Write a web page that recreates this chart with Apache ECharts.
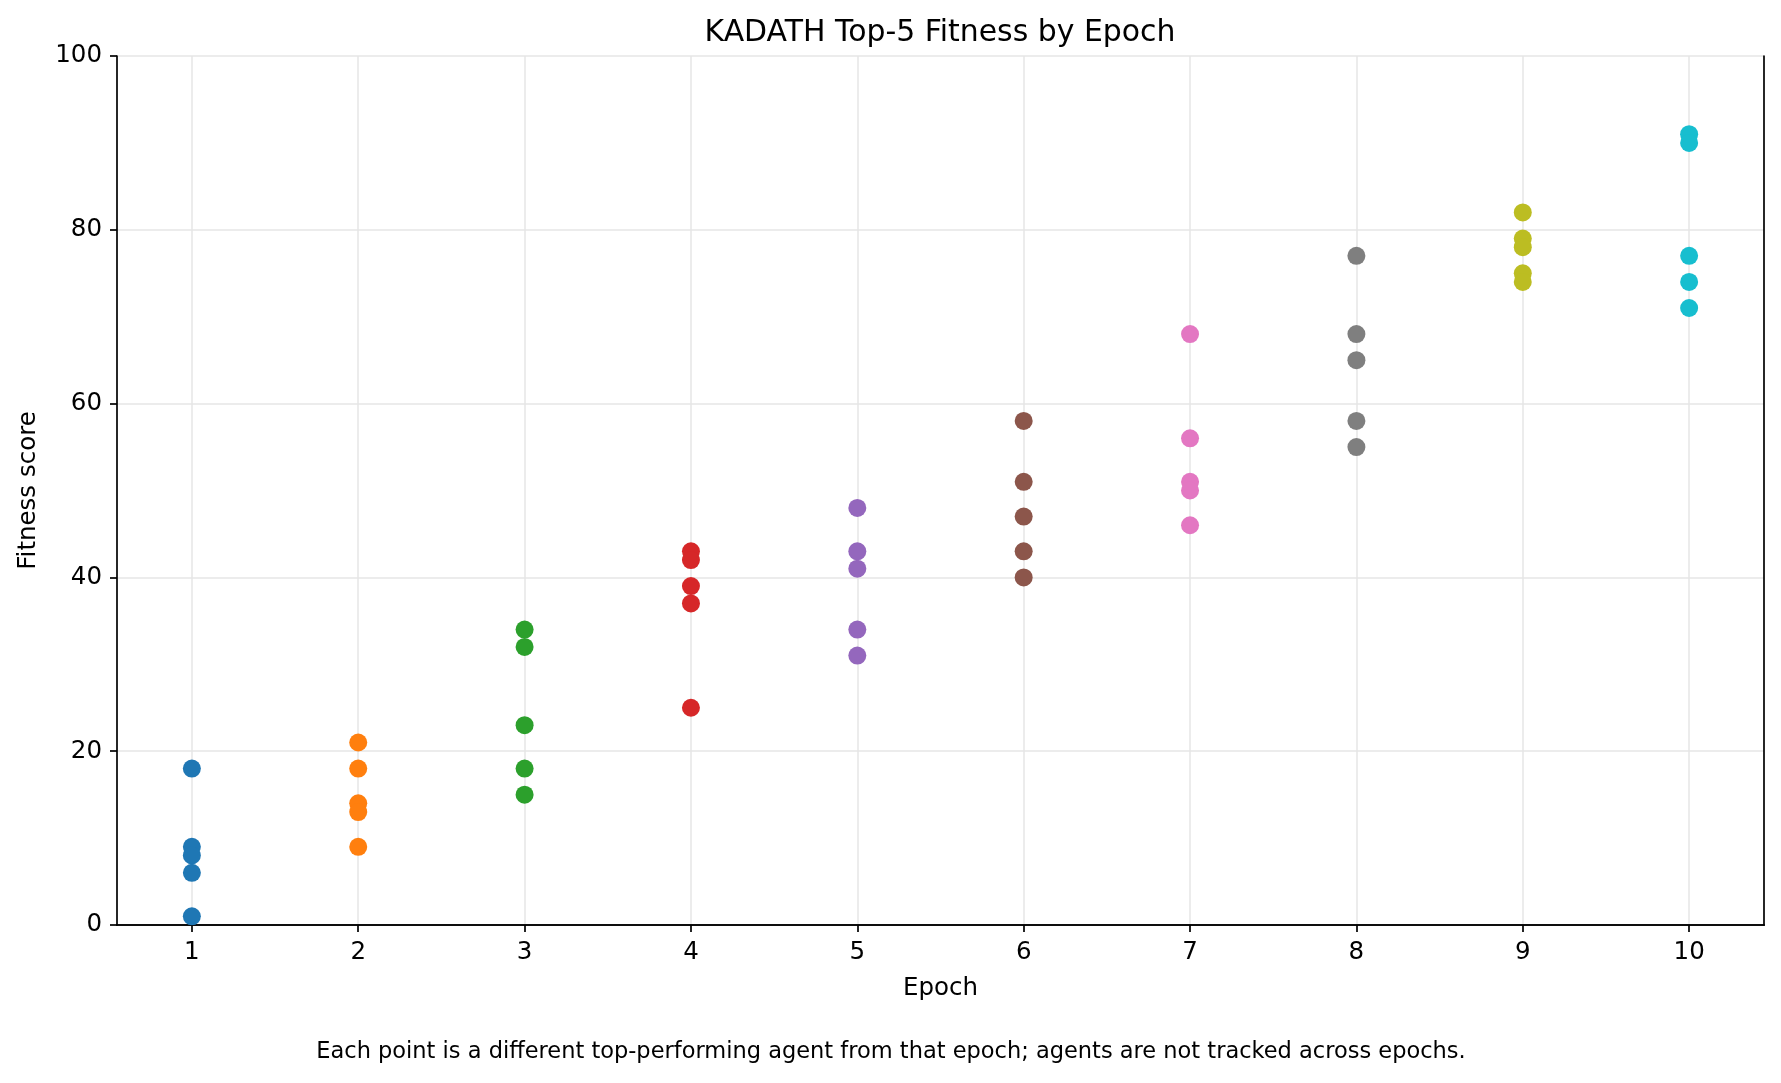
<!DOCTYPE html>
<html>
<head>
<meta charset="utf-8">
<title>KADATH Top-5 Fitness by Epoch</title>
<script src="https://cdn.jsdelivr.net/npm/echarts@6.0.0/dist/echarts.min.js"></script>
<style>
  html, body { margin: 0; padding: 0; background: #fff; }
  #chart { width: 1781px; height: 1083px; }
</style>
</head>
<body>
<div id="chart"></div>
<script>
// epochs on the x axis
var epochs = [1, 2, 3, 4, 5, 6, 7, 8, 9, 10];
// top-5 fitness scores per epoch
var epoch1 = [18, 9, 8, 6, 1];
var epoch2 = [21, 18, 14, 13, 9];
var epoch3 = [34, 32, 23, 18, 15];
var epoch4 = [43, 42, 39, 37, 25];
var epoch5 = [48, 43, 41, 34, 31];
var epoch6 = [58, 51, 47, 43, 40];
var epoch7 = [68, 56, 51, 50, 46];
var epoch8 = [77, 68, 65, 58, 55];
var epoch9 = [82, 79, 78, 75, 74];
var epoch10 = [91, 90, 77, 74, 71];
var yTicks = [0, 20, 40, 60, 80, 100];

var scoresByEpoch = [epoch1, epoch2, epoch3, epoch4, epoch5, epoch6, epoch7, epoch8, epoch9, epoch10];
var colors = ['#1f77b4', '#ff7f0e', '#2ca02c', '#d62728', '#9467bd',
              '#8c564b', '#e377c2', '#7f7f7f', '#bcbd22', '#17becf'];

var FONT = 'DejaVu Sans';
var TICK_SIZE = 24.5;
var gridLine = { color: '#e6e6e6', width: 1.5 };
var spine = { show: true, lineStyle: { color: '#000', width: 1.7 } };

var series = epochs.map(function (ep, i) {
  return {
    name: 'Epoch ' + ep,
    type: 'scatter',
    symbol: 'circle',
    symbolSize: 18,
    itemStyle: { color: colors[i], opacity: 1 },
    data: scoresByEpoch[i].map(function (v) { return [ep, v]; })
  };
});

var chart = echarts.init(document.getElementById('chart'), null, { renderer: 'canvas' });
chart.setOption({
  backgroundColor: '#ffffff',
  animation: false,
  textStyle: { fontFamily: FONT },
  grid: { left: 117, right: 17, top: 56, bottom: 158 },
  xAxis: [{
    type: 'value',
    min: 0.55,
    max: 10.45,
    name: 'Epoch',
    nameLocation: 'middle',
    nameGap: 51,
    nameTextStyle: { fontSize: TICK_SIZE, color: '#000', fontFamily: FONT },
    axisLine: spine,
    axisTick: { show: true, customValues: epochs, length: 7, lineStyle: { color: '#000', width: 1.7 } },
    axisLabel: { customValues: epochs, fontSize: TICK_SIZE, color: '#000', margin: 15, fontFamily: FONT },
    splitLine: { show: true, lineStyle: gridLine }
  }, {
    // top spine only
    type: 'value', position: 'top', min: 0.55, max: 10.45,
    axisLine: spine, axisTick: { show: false }, axisLabel: { show: false }, splitLine: { show: false }
  }],
  yAxis: [{
    type: 'value',
    min: 0,
    max: 100,
    interval: 20,
    name: 'Fitness score',
    nameLocation: 'middle',
    nameGap: 76,
    nameTextStyle: { fontSize: TICK_SIZE, color: '#000', fontFamily: FONT },
    axisLine: spine,
    axisTick: { show: true, length: 7, lineStyle: { color: '#000', width: 1.7 } },
    axisLabel: {
      fontSize: TICK_SIZE, color: '#000', margin: 15, fontFamily: FONT,
      formatter: function (v) { return yTicks.indexOf(v) >= 0 ? String(v) : ''; }
    },
    splitLine: { show: true, lineStyle: gridLine }
  }, {
    // right spine only
    type: 'value', position: 'right', min: 0, max: 100, interval: 20,
    axisLine: spine, axisTick: { show: false }, axisLabel: { show: false }, splitLine: { show: false }
  }],
  graphic: [
    {
      type: 'text', x: 940, y: 33,
      style: { text: 'KADATH Top-5 Fitness by Epoch', fontSize: 29.9, fontFamily: FONT,
               fill: '#000', align: 'center', verticalAlign: 'middle' }
    },
    {
      type: 'text', x: 891, y: 1052,
      style: { text: 'Each point is a different top-performing agent from that epoch; agents are not tracked across epochs.',
               fontSize: 22.5, fontFamily: FONT, fill: '#000', align: 'center', verticalAlign: 'middle' }
    }
  ],
  series: series
});
</script>
</body>
</html>
